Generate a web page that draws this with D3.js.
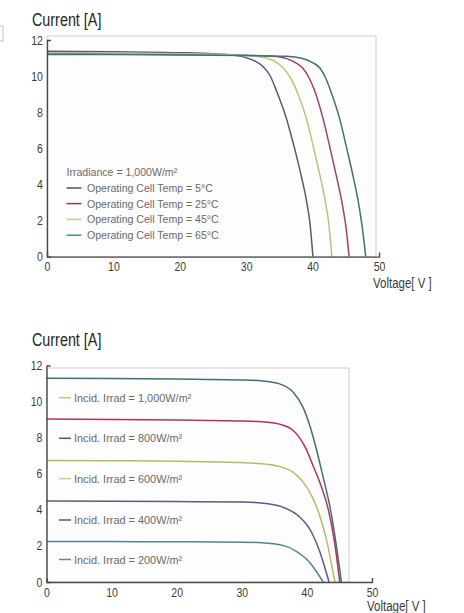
<!DOCTYPE html>
<html><head><meta charset="utf-8">
<script src="https://cdn.jsdelivr.net/npm/d3@7"></script>
<style>
body{margin:0;background:#fff}
svg{display:block}
text{font-family:"Liberation Sans",Arial,sans-serif}
</style>
</head><body>
<svg id="c" width="464" height="613"></svg>
<script>
// ---------- DATA ----------
const xTicks = [0, 10, 20, 30, 40, 50];
const yTicks = [0, 2, 4, 6, 8, 10, 12];

// Chart 1: I-V curves at different operating cell temperatures (Irradiance = 1,000 W/m²)
const tempLabels = ["Operating Cell Temp = 5°C", "Operating Cell Temp = 25°C",
                    "Operating Cell Temp = 45°C", "Operating Cell Temp = 65°C"];
const tempCurve5 = [[0,11.38],[10,11.35],[20,11.3],[25,11.24],[28,11.16],[30,11.02],[31.5,10.8],[32.6,10.5],[33.6,10.02],[34.6,9.15],[36.1,7.6],[37.35,5.9],[38.2,4.62],[39.1,3.05],[39.6,1.85],[40.05,0]];
const tempCurve25 = [[0,11.25],[10,11.23],[20,11.2],[30,11.15],[34,11.1],[36,10.98],[37.4,10.75],[38.5,10.45],[39.4,9.95],[40.3,9.2],[41.6,7.6],[42.7,5.9],[43.5,4.6],[44.45,2.95],[45.0,1.7],[45.5,0]];
const tempCurve45 = [[0,11.3],[10,11.28],[20,11.24],[28,11.17],[31,11.12],[33,11.0],[34.5,10.78],[35.6,10.45],[36.6,9.95],[37.6,9.2],[39.1,7.6],[40.2,5.95],[41.05,4.6],[41.95,3.0],[42.45,1.8],[42.9,0]];
const tempCurve65 = [[0,11.2],[10,11.19],[20,11.17],[30,11.14],[36,11.1],[38.5,10.98],[40,10.75],[41.1,10.45],[41.9,9.95],[42.7,9.2],[44.1,7.6],[45.2,5.9],[45.95,4.7],[46.85,3.1],[47.45,1.7],[48,0]];
const tempHeading = "Irradiance = 1,000W/m²";

// Chart 2: I-V curves at different incident irradiance levels
const irradLabels = ["Incid. Irrad = 1,000W/m²", "Incid. Irrad = 800W/m²", "Incid. Irrad = 600W/m²",
                     "Incid. Irrad = 400W/m²", "Incid. Irrad = 200W/m²"];
const irradCurve1000 = [[0,11.3],[10,11.28],[20,11.25],[30,11.2],[33,11.15],[35.8,10.98],[37.9,10.52],[39.4,9.69],[40.5,8.6],[41.5,7.3],[42.4,5.95],[43.6,4.05],[44.45,2.2],[45.3,0]];
const irradCurve800 = [[0,9.03],[10,9.01],[20,8.98],[30,8.93],[34,8.85],[35.8,8.75],[37.9,8.4],[39.7,7.5],[41,6.4],[42.1,5.4],[43.3,4.0],[44.25,2.2],[45.05,0]];
const irradCurve600 = [[0,6.74],[10,6.72],[20,6.69],[30,6.62],[34,6.52],[36,6.38],[37.9,6.08],[39.4,5.55],[40.7,4.8],[41.9,3.75],[43.1,2.2],[44.3,0]];
const irradCurve400 = [[0,4.49],[10,4.48],[20,4.46],[30,4.43],[33,4.38],[36.3,4.15],[38.9,3.6],[40.7,2.77],[42.0,1.66],[43.0,0.5],[43.4,0]];
const irradCurve200 = [[0,2.25],[10,2.24],[20,2.23],[30,2.21],[33,2.18],[36.3,2.03],[38.9,1.57],[40.2,1.18],[41.2,0.72],[42.0,0.28],[42.5,0]];

const yTitle = "Current [A]";
const xTitle = "Voltage[ V ]";

// ---------- STYLE ----------
const tempCurveColors = ["#59587a", "#9c4468", "#b3c77e", "#3f7276"];
const tempLegendColors = ["#555555", "#a3354f", "#b8d08a", "#3a9494"];
const irradCurveColors = ["#3e6f7a", "#b0345a", "#b9b86a", "#5b5b82", "#4e8590"];
const irradLegendColors = ["#c2c878", "#555555", "#cccc94", "#555a6a", "#6a8590"];

const svg = d3.select("#c");

// narrow text helper (condensed look via horizontal scale)
function ntext(g, x, y, str, size, color, sx, dy) {
  return g.append("text")
    .attr("transform", `translate(${x},${y}) scale(${sx},1)`)
    .attr("dy", dy || 0)
    .attr("font-size", size).attr("fill", color).text(str);
}

// small box fragment at top-left edge
svg.append("rect").attr("x", -5).attr("y", 26).attr("width", 8).attr("height", 15)
  .attr("fill", "none").attr("stroke", "#c4c4c4");

function panel(o) {
  const g = svg.append("g");
  const x = d3.scaleLinear().domain([0, 50]).range(o.xr);
  const y = d3.scaleLinear().domain([0, 12]).range(o.yr);

  // plot box
  g.append("rect")
    .attr("x", x(0)).attr("y", o.boxTop)
    .attr("width", o.boxRight - x(0)).attr("height", y(0) - o.boxTop)
    .attr("fill", "#fdfdfd").attr("stroke", "#cfcfcf").attr("stroke-width", 1);

  // curves
  const line = d3.line().x(d => x(d[0])).y(d => y(d[1])).curve(d3.curveMonotoneX);
  o.curves.forEach((c, i) => {
    g.append("path").attr("d", line(c)).attr("fill", "none")
      .attr("stroke", o.curveColors[i]).attr("stroke-width", 1.5);
  });

  // axes
  const ax = g.append("g").attr("transform", `translate(0,${y(0)})`)
    .call(d3.axisBottom(x).tickValues(xTicks).tickSizeInner(0).tickSizeOuter(-4).tickPadding(6));
  const ay = g.append("g").attr("transform", `translate(${x(0)},0)`)
    .call(d3.axisLeft(y).tickValues(yTicks).tickSizeInner(0).tickSizeOuter(-4).tickPadding(5));
  [ax, ay].forEach(a => {
    a.select(".domain").attr("stroke", "#4a4a4a").attr("stroke-width", 1.4);
    a.selectAll("text").attr("font-size", 12.5).attr("fill", "#3a3a3a")
      .attr("font-family", '"Liberation Sans",Arial,sans-serif')
      .attr("transform", "scale(0.84,1)");
  });

  // titles
  ntext(g, 32, o.titleY, yTitle, 17.5, "#262626", 0.82);
  ntext(g, o.xTitleX, o.xTitleY, xTitle, 14, "#3a3a3a", 0.82);

  // legend
  if (o.heading) {
    ntext(g, o.lgLine[0], o.lgY[0] - 16, o.heading, 11.5, "#6a6a6a", o.lgScale, "0.35em");
  }
  o.labels.forEach((t, i) => {
    g.append("line").attr("x1", o.lgLine[0]).attr("x2", o.lgLine[1])
      .attr("y1", o.lgY[i]).attr("y2", o.lgY[i])
      .attr("stroke", o.legendColors[i]).attr("stroke-width", 1.5);
    ntext(g, o.lgTextX, o.lgY[i], t, 11.5, "#6a6a6a", o.lgScale, "0.35em");
  });
}

panel({
  xr: [47, 379], yr: [256.6, 40], boxTop: 36, boxRight: 376,
  curves: [tempCurve5, tempCurve25, tempCurve45, tempCurve65],
  curveColors: tempCurveColors, legendColors: tempLegendColors,
  labels: tempLabels, heading: tempHeading,
  lgY: [188, 203.6, 219.4, 235.2], lgLine: [66.5, 81.5], lgTextX: 87, lgScale: 0.92,
  titleY: 26, xTitleX: 373, xTitleY: 288
});

panel({
  xr: [46.5, 372], yr: [582, 365.5], boxTop: 368, boxRight: 349,
  curves: [irradCurve1000, irradCurve800, irradCurve600, irradCurve400, irradCurve200],
  curveColors: irradCurveColors, legendColors: irradLegendColors,
  labels: irradLabels, heading: null,
  lgY: [397.7, 438.3, 478.6, 520, 559.5], lgLine: [59, 71], lgTextX: 74, lgScale: 0.95,
  titleY: 346, xTitleX: 367, xTitleY: 611
});
</script>
</body></html>
